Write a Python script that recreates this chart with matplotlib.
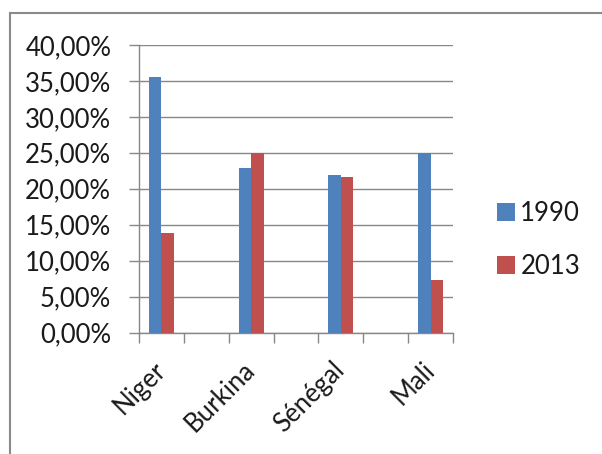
import matplotlib
matplotlib.use('Agg')
import matplotlib.pyplot as plt
from matplotlib.patches import Rectangle
from matplotlib.ticker import FuncFormatter, MultipleLocator
import numpy as np

# Data (share, %)
countries = ['Niger', 'Burkina', 'Sénégal', 'Mali']
values_1990 = [35.5, 22.9, 21.95, 25.0]
values_2013 = [13.85, 25.0, 21.6, 7.25]
series_labels = ['1990', '2013']

BLUE = '#4F81BD'
RED = '#C0504D'
GRID = '#878787'
TEXT = '#1a1a1a'
FS = 18.5

plt.rcParams['font.family'] = ['Lato', 'DejaVu Sans']

fig = plt.figure(figsize=(6.02, 4.54), dpi=100)
ax = fig.add_axes([139 / 602, 1 - 332.5 / 454, 314 / 602, 287.5 / 454])

# countries sit in every other category slot (empty slots between them)
x = np.arange(len(countries)) * 2
w = 0.28
ax.bar(x - w / 2, values_1990, width=w, color=BLUE, label=series_labels[0], zorder=3)
ax.bar(x + w / 2, values_2013, width=w, color=RED, label=series_labels[1], zorder=3)

ax.set_xlim(-0.5, 2 * len(countries) - 1.5)
ax.set_ylim(0, 40)

ax.yaxis.set_major_locator(MultipleLocator(5))
ax.yaxis.set_major_formatter(FuncFormatter(lambda v, p: f'{v:.2f}%'.replace('.', ',')))
ax.yaxis.grid(True, color=GRID, linewidth=1.0, zorder=0)
ax.tick_params(axis='y', length=7, width=1, color=GRID, pad=13, labelsize=FS,
               labelcolor=TEXT)

ax.set_xticks(x)
ax.set_xticklabels(countries, rotation=45, ha='right', va='center',
                   rotation_mode='anchor', fontsize=FS, color=TEXT)
ax.set_xticks(np.arange(-0.5, 2 * len(countries) - 1, 1.0), minor=True)
ax.tick_params(axis='x', which='major', length=0, pad=24)
ax.tick_params(axis='x', which='minor', length=7, width=1, color=GRID)

for s in ['top', 'right']:
    ax.spines[s].set_visible(False)
for s in ['left', 'bottom']:
    ax.spines[s].set_color(GRID)
    ax.spines[s].set_linewidth(1.0)

leg = fig.legend(loc='center left', bbox_to_anchor=(474 / 602, 1 - 240 / 454),
                 frameon=False, fontsize=FS, handlelength=0.7, handleheight=0.7,
                 handletextpad=0.2, labelspacing=1.08, labelcolor=TEXT)

# outer chart border (cropped at right and bottom)
fig.patches.append(Rectangle((9.5 / 602, -0.1), 1.2, 1.1 - 13 / 454, transform=fig.transFigure,
                             fill=False, edgecolor='#8a8a8a', linewidth=1.5))

fig.savefig('out.png', dpi=100)
